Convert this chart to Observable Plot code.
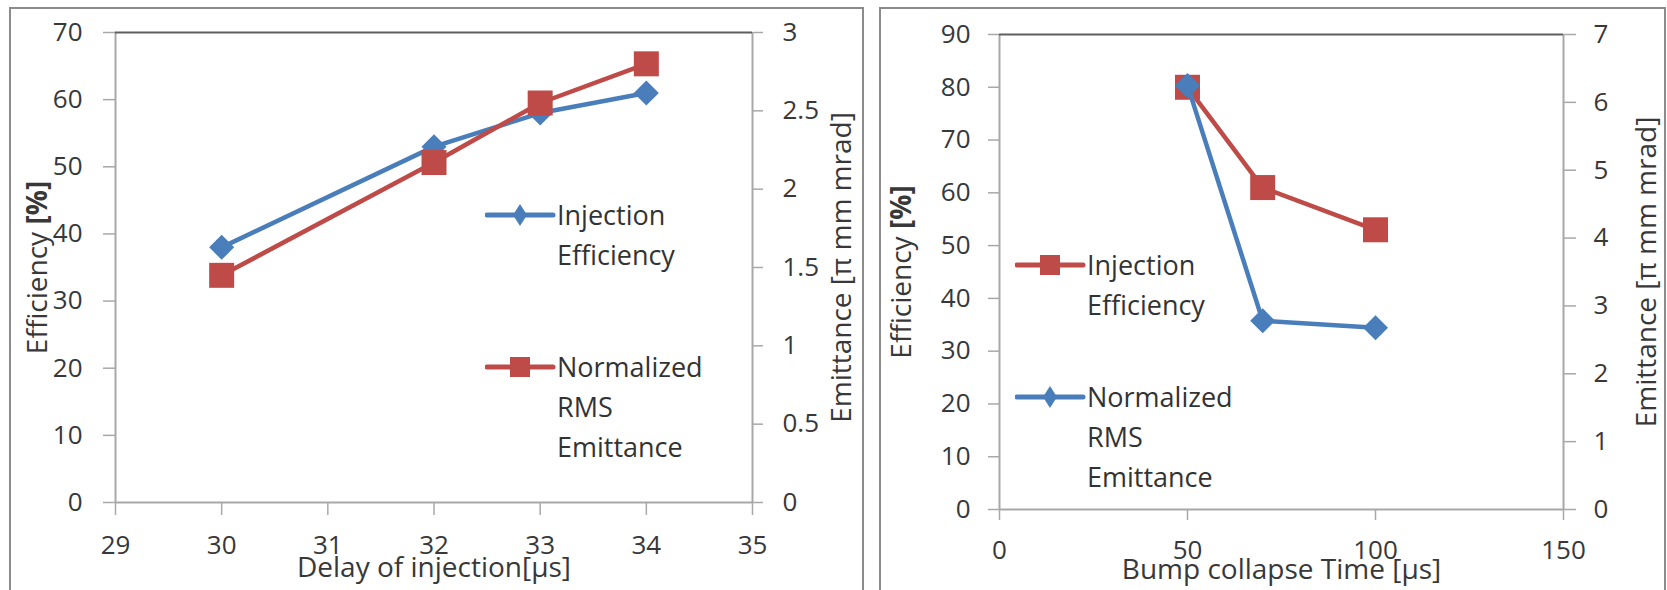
<!DOCTYPE html>
<html><head><meta charset="utf-8">
<script src="https://cdn.jsdelivr.net/npm/d3@7"></script>
<script src="https://cdn.jsdelivr.net/npm/@observablehq/plot@0.6"></script>
<style>
html,body{margin:0;padding:0;background:#fff;}
body{width:1667px;height:590px;overflow:hidden;position:relative;font-family:"Open Sans",sans-serif;}
.box{position:absolute;border:2px solid #8c8c8c;box-sizing:border-box;}
.chart{position:absolute;top:0;}
.legend{position:absolute;font-size:27px;line-height:40px;color:#333;white-space:nowrap;}
.sw{position:absolute;}
</style></head><body>
<div class="box" style="left:9px;top:7px;width:855px;height:620px"></div>
<div class="box" style="left:879px;top:7px;width:787px;height:620px"></div>
<div id="c1" class="chart" style="left:0px"></div>
<div id="c2" class="chart" style="left:870px"></div>

<svg class="sw" style="left:485px;top:195px" width="72" height="40"><line x1="2" y1="20" x2="68" y2="20" stroke="#4a7ebb" stroke-width="5" stroke-linecap="round"/><path d="M35,9 L42,20 L35,31 L28,20 Z" fill="#4a7ebb"/></svg>
<div class="legend" style="left:557px;top:195px">Injection<br>Efficiency</div>
<svg class="sw" style="left:485px;top:347px" width="72" height="40"><line x1="2" y1="20" x2="68" y2="20" stroke="#be4b48" stroke-width="5" stroke-linecap="round"/><rect x="25" y="10" width="20" height="20" fill="#be4b48"/></svg>
<div class="legend" style="left:557px;top:347px">Normalized<br>RMS<br>Emittance</div>

<svg class="sw" style="left:1015px;top:245px" width="72" height="40"><line x1="2" y1="20" x2="68" y2="20" stroke="#be4b48" stroke-width="5" stroke-linecap="round"/><rect x="25" y="10" width="20" height="20" fill="#be4b48"/></svg>
<div class="legend" style="left:1087px;top:245px">Injection<br>Efficiency</div>
<svg class="sw" style="left:1015px;top:377px" width="72" height="40"><line x1="2" y1="20" x2="68" y2="20" stroke="#4a7ebb" stroke-width="5" stroke-linecap="round"/><path d="M35,9 L42,20 L35,31 L28,20 Z" fill="#4a7ebb"/></svg>
<div class="legend" style="left:1087px;top:377px">Normalized<br>RMS<br>Emittance</div>

<script>
// ---- Data: left chart (delay of injection) ----
const delayX = [30, 32, 33, 34];
const delayEfficiency = [38, 53, 58, 61];
const delayEmittance = [1.45, 2.17, 2.55, 2.8];
const delayTicks = [29, 30, 31, 32, 33, 34, 35];
const delayEffTicks = [0, 10, 20, 30, 40, 50, 60, 70];
const delayEmitTicks = [0, 0.5, 1, 1.5, 2, 2.5, 3];

// ---- Data: right chart (bump collapse time) ----
const bumpX = [50, 70, 100];
const bumpEfficiency = [80, 61, 53];
const bumpEmittance = [6.25, 2.78, 2.68];
const bumpTicks = [0, 50, 100, 150];
const bumpEffTicks = [0, 10, 20, 30, 40, 50, 60, 70, 80, 90];
const bumpEmitTicks = [0, 1, 2, 3, 4, 5, 6, 7];

const BLUE = "#4a7ebb", RED = "#be4b48";
const diamond = {draw(ctx, size) { const r = Math.sqrt(size / Math.PI); ctx.moveTo(0, -r); ctx.lineTo(r, 0); ctx.lineTo(0, r); ctx.lineTo(-r, 0); ctx.closePath(); }};
const square = {draw(ctx, size) { const r = Math.sqrt(size / Math.PI); ctx.rect(-r, -r, 2 * r, 2 * r); }};
const fmt = d3.format("~g");

function dualChart(c) {
  const toLeft = d3.scaleLinear().domain([c.y2Ticks[0], c.y2Ticks[c.y2Ticks.length - 1]])
    .range([c.yTicks[0], c.yTicks[c.yTicks.length - 1]]);
  const effData = c.x.map((x, i) => ({x, y: c.eff[i]}));
  const emitData = c.x.map((x, i) => ({x, y: toLeft(c.emit[i])}));
  const gray = "#a8a8a8", txt = "#383838";
  const xDom = [c.xTicks[0], c.xTicks[c.xTicks.length - 1]];
  const yDom = [c.yTicks[0], c.yTicks[c.yTicks.length - 1]];
  const seriesMarks = (data, color, symbol) => [
    Plot.line(data, {x: "x", y: "y", stroke: color, strokeWidth: 4.5}),
    Plot.dot(data, {x: "x", y: "y", fill: color, symbol, r: 12.5, stroke: null})
  ];
  const effMarks = seriesMarks(effData, c.effColor, c.effSymbol);
  const emitMarks = seriesMarks(emitData, c.emitColor, c.emitSymbol);
  const svg = Plot.plot({
    width: c.width, height: 590,
    marginLeft: c.m[0], marginRight: c.m[1], marginTop: c.m[2], marginBottom: c.m[3],
    x: {domain: xDom}, y: {domain: yDom},
    style: {background: "transparent", overflow: "visible", fontFamily: "'Open Sans', sans-serif", color: txt},
    marks: [
      Plot.ruleY([yDom[0]], {stroke: gray, strokeWidth: 2}),
      Plot.ruleX(xDom, {stroke: gray, strokeWidth: 2}),
      Plot.ruleY([yDom[1]], {stroke: "#5e5e5e", strokeWidth: 2}),
      Plot.axisY({anchor: "left", ticks: c.yTicks, tickFormat: fmt, tickSize: c.t.yl[0], tickPadding: c.t.yl[1], stroke: gray, strokeWidth: 1.5, fill: txt, fontSize: 26, label: null}),
      Plot.axisY({anchor: "right", ticks: c.y2Ticks.map(toLeft), tickFormat: d => fmt(+toLeft.invert(d).toFixed(6)),
        tickSize: c.t.yr[0], tickPadding: c.t.yr[1], stroke: gray, strokeWidth: 1.5, fill: txt, fontSize: 26, label: null}),
      Plot.axisX({anchor: "bottom", ticks: c.xTicks, tickFormat: fmt, tickSize: c.t.x[0], tickPadding: c.t.x[1], stroke: gray, strokeWidth: 1.5, fill: txt, fontSize: 26, label: null}),
      ...effMarks,
      ...emitMarks,
      Plot.text([c.yLabel], {text: d => d, frameAnchor: "left", textAnchor: "middle", rotate: -90, lineAnchor: "top", dx: -c.lo[0], fontSize: 28, fill: txt}),
      Plot.text([c.y2Label], {text: d => d, frameAnchor: "right", textAnchor: "middle", rotate: -90, lineAnchor: "bottom", dx: c.lo[1], fontSize: 28, fill: txt}),
      Plot.text([c.xLabel], {text: d => d, frameAnchor: "bottom", textAnchor: "middle", lineAnchor: "bottom", dy: c.lo[2], fontSize: 28, fill: txt})
    ]
  });
  d3.select(svg).selectAll("text").filter(function () { return this.textContent === "Efficiency [%]"; })
    .each(function () {
      const t = d3.select(this);
      t.text(null);
      t.append("tspan").text("Efficiency ");
      t.append("tspan").attr("font-weight", "bold").text("[%]");
    });
  return svg;
}

document.getElementById("c1").append(dualChart({
  width: 870, m: [115, 118, 32, 88],
  x: delayX, eff: delayEfficiency, emit: delayEmittance,
  xTicks: delayTicks, yTicks: delayEffTicks, y2Ticks: delayEmitTicks,
  effColor: BLUE, effSymbol: diamond, emitColor: RED, emitSymbol: square,
  t: {yl: [12, 21], yr: [10, 20], x: [13, 20]},
  lo: [88, 98, 74],
  xLabel: "Delay of injection[μs]", yLabel: "Efficiency [%]", y2Label: "Emittance [π mm mrad]"
}));

document.getElementById("c2").append(dualChart({
  width: 797, m: [129, 104, 34, 81],
  x: bumpX, eff: bumpEfficiency, emit: bumpEmittance,
  xTicks: bumpTicks, yTicks: bumpEffTicks, y2Ticks: bumpEmitTicks,
  effColor: RED, effSymbol: square, emitColor: BLUE, emitSymbol: diamond,
  t: {yl: [11, 18], yr: [12, 18], x: [11, 20]},
  lo: [108, 92, 69],
  xLabel: "Bump collapse Time [μs]", yLabel: "Efficiency [%]", y2Label: "Emittance [π mm mrad]"
}));
</script>
</body></html>
